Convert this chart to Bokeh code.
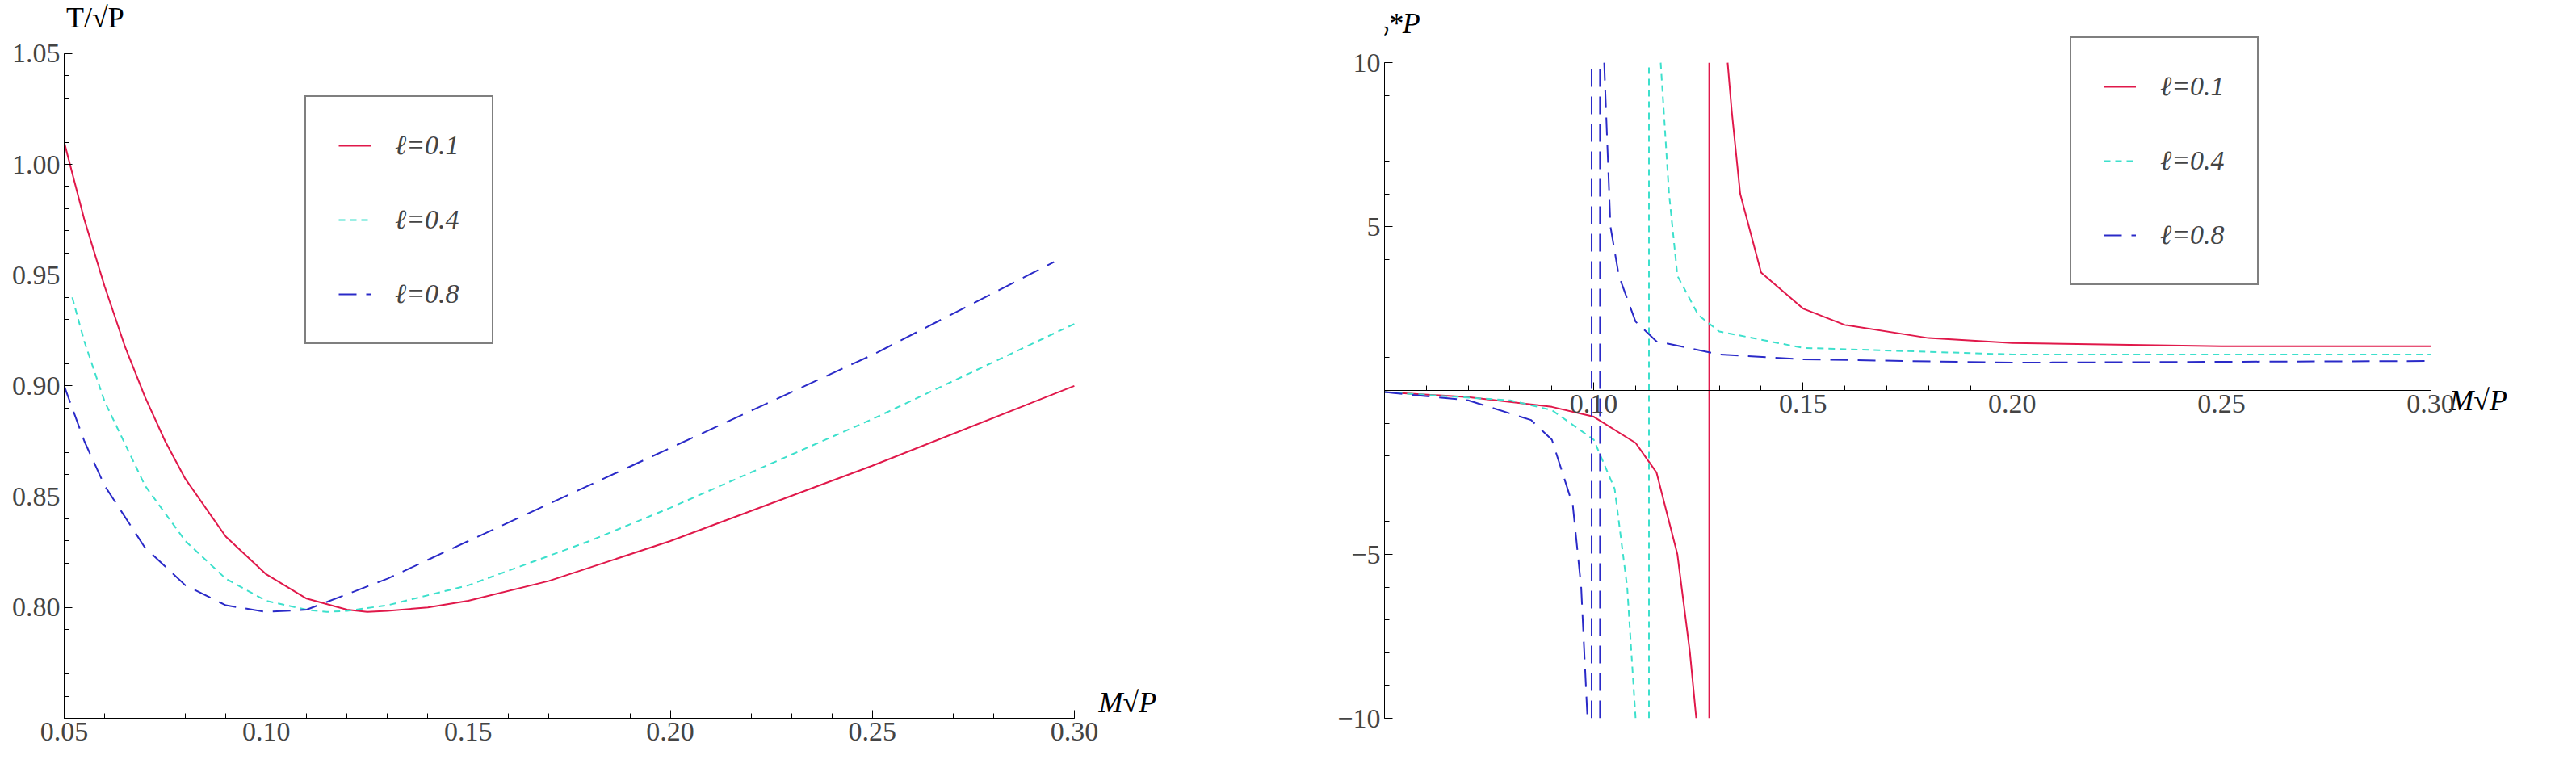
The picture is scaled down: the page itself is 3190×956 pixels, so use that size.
from bokeh.plotting import figure
from bokeh.layouts import row
from bokeh.models import Legend, LegendItem, FixedTicker, Range1d, CustomJSTickFormatter
from bokeh.core.properties import value
from bokeh.embed import file_html
from bokeh.resources import INLINE

FONT = "'Liberation Serif', 'Times New Roman', serif"
RED, CYAN, BLUE = "#e0184a", "#3de0cc", "#2a2ac8"

# Left panel: T/sqrt(P) vs M sqrt(P)
t1_x = [0.05,0.055,0.06,0.065,0.07,0.075,0.08,0.09,0.10,0.11,0.12,0.125,0.13,0.14,0.15,0.17,0.20,0.25,0.30]
t1_y = [1.01,0.975,0.945,0.918,0.895,0.875,0.858,0.832,0.815,0.804,0.799,0.798,0.7985,0.800,0.803,0.812,0.830,0.864,0.900]
t4_x = [0.052,0.055,0.06,0.07,0.08,0.09,0.10,0.11,0.115,0.12,0.13,0.15,0.18,0.20,0.25,0.30]
t4_y = [0.94,0.92,0.893,0.855,0.83,0.813,0.803,0.799,0.798,0.7985,0.801,0.810,0.830,0.845,0.885,0.928]
t8_x = [0.05,0.055,0.06,0.07,0.08,0.09,0.10,0.11,0.12,0.13,0.15,0.20,0.25,0.295]
t8_y = [0.90,0.875,0.855,0.827,0.81,0.801,0.798,0.799,0.806,0.813,0.83,0.872,0.914,0.956]

# Right panel: Cp*P branches
c1n_x = [0.05,0.07,0.09,0.10,0.11,0.115,0.12,0.123,0.1245]
c1n_y = [-0.05,-0.2,-0.5,-0.8,-1.6,-2.5,-5,-8,-10]
c1p_x = [0.132,0.133,0.135,0.14,0.15,0.16,0.18,0.20,0.25,0.30]
c1p_y = [10,8.5,6.0,3.6,2.5,2.0,1.6,1.45,1.35,1.35]
c4n_x = [0.05,0.08,0.09,0.10,0.105,0.108,0.11]
c4n_y = [-0.05,-0.3,-0.6,-1.5,-3,-6,-10]
c4p_x = [0.116,0.118,0.12,0.125,0.13,0.15,0.20,0.30]
c4p_y = [10,6,3.5,2.3,1.8,1.3,1.1,1.1]
c8n_x = [0.05,0.07,0.085,0.09,0.095,0.097,0.0985]
c8n_y = [-0.05,-0.3,-0.9,-1.5,-3.5,-6,-10]
c8p_x = [0.1025,0.104,0.106,0.11,0.115,0.13,0.15,0.20,0.30]
c8p_y = [10,5,3.5,2.1,1.5,1.1,0.95,0.85,0.9]
asym = {"0.1": [0.1276], "0.4": [0.1132], "0.8": [0.0995, 0.1015]}

labels = ["ℓ=0.1", "ℓ=0.4", "ℓ=0.8"]

def style(p):
    p.background_fill_color = "white"
    p.grid.visible = False
    p.outline_line_color = None
    for ax in p.axis:
        ax.major_label_text_font = FONT
        ax.major_label_text_font_size = "34px"
        ax.axis_line_color = "black"
        ax.major_tick_line_color = "black"
        ax.minor_tick_line_color = "black"
        ax.major_tick_in = 10
        ax.major_tick_out = 0
        ax.minor_tick_in = 6
        ax.minor_tick_out = 0

def legend(p, rs, loc):
    items = [LegendItem(label=l, renderers=[r]) for l, r in zip(labels, rs)]
    lg = Legend(items=items, location=loc, label_text_font=FONT, label_text_font_style="italic",
                label_text_font_size="34px", border_line_color="black", border_line_width=2,
                padding=40, spacing=52, glyph_width=40, glyph_height=40, label_standoff=30,
                background_fill_alpha=1)
    p.add_layout(lg)

def txt(p, x, y, s, italic=True, align="left", base="middle"):
    p.text(x=[x], y=[y], text=[s], text_font=value(FONT), text_font_size="36px",
           text_font_style="italic" if italic else "normal", text_align=align, text_baseline=base)

# Left
p1 = figure(width=1590, height=940, x_range=Range1d(0.05, 0.33), y_range=Range1d(0.75, 1.074),
            output_backend="svg", toolbar_location=None, min_border_left=79, min_border_right=110,
            min_border_top=0, min_border_bottom=51)
r1 = p1.line(t1_x, t1_y, line_color=RED, line_width=2)
r4 = p1.line(t4_x, t4_y, line_color=CYAN, line_width=2, line_dash="8 6")
r8 = p1.line(t8_x, t8_y, line_color=BLUE, line_width=2, line_dash="22 12")
p1.xaxis.bounds = (0.05, 0.30)
p1.yaxis.bounds = (0.75, 1.05)
p1.xaxis.ticker = FixedTicker(ticks=[0.05,0.10,0.15,0.20,0.25,0.30],
                              minor_ticks=[0.05+0.01*i for i in range(26)])
p1.yaxis.ticker = FixedTicker(ticks=[0.80,0.85,0.90,0.95,1.00,1.05],
                              minor_ticks=[0.75+0.01*i for i in range(31)])
p1.xaxis.formatter = CustomJSTickFormatter(code="return tick.toFixed(2);")
p1.yaxis.formatter = CustomJSTickFormatter(code="return tick.toFixed(2);")
style(p1)
legend(p1, [r1, r4, r8], (298, 463))
txt(p1, 0.0505, 1.066, "T/√P", italic=False)
txt(p1, 0.306, 0.757, "M√P")

# Right
p2 = figure(width=1574, height=940, x_range=Range1d(0.05, 0.33), y_range=Range1d(-10, 11.9),
            output_backend="svg", toolbar_location=None, min_border_left=114, min_border_right=9,
            min_border_top=0, min_border_bottom=24)
q1 = p2.line(c1p_x, c1p_y, line_color=RED, line_width=2)
p2.line(c1n_x, c1n_y, line_color=RED, line_width=2)
for a in asym["0.1"]:
    p2.line([a, a], [-10, 10], line_color=RED, line_width=2)
q4 = p2.line(c4p_x, c4p_y, line_color=CYAN, line_width=2, line_dash="8 6")
p2.line(c4n_x, c4n_y, line_color=CYAN, line_width=2, line_dash="8 6")
for a in asym["0.4"]:
    p2.line([a, a], [-10, 10], line_color=CYAN, line_width=2, line_dash="8 6")
q8 = p2.line(c8p_x, c8p_y, line_color=BLUE, line_width=2, line_dash="22 12")
p2.line(c8n_x, c8n_y, line_color=BLUE, line_width=2, line_dash="22 12")
for a in asym["0.8"]:
    p2.line([a, a], [-10, 10], line_color=BLUE, line_width=2, line_dash="22 12")
p2.xaxis.fixed_location = 0
p2.xaxis.bounds = (0.045, 0.30)
p2.yaxis.bounds = (-10, 10)
p2.xaxis.ticker = FixedTicker(ticks=[0.10,0.15,0.20,0.25,0.30],
                              minor_ticks=[0.05+0.01*i for i in range(26)])
p2.xaxis.formatter = CustomJSTickFormatter(code="return tick.toFixed(2);")
p2.yaxis.ticker = FixedTicker(ticks=[-10,-5,5,10], minor_ticks=list(range(-10, 11)))
p2.yaxis.formatter = CustomJSTickFormatter(code="return tick < 0 ? '\u2212' + (-tick) : '' + tick;")
style(p2)
legend(p2, [q1, q4, q8], (849, 536))
txt(p2, 0.0435, 11.2, "C\u209a*P")
txt(p2, 0.3045, -0.3, "M√P")

lay = row(p1, p2, spacing=10)
open("out.html", "w").write(file_html(lay, INLINE))
